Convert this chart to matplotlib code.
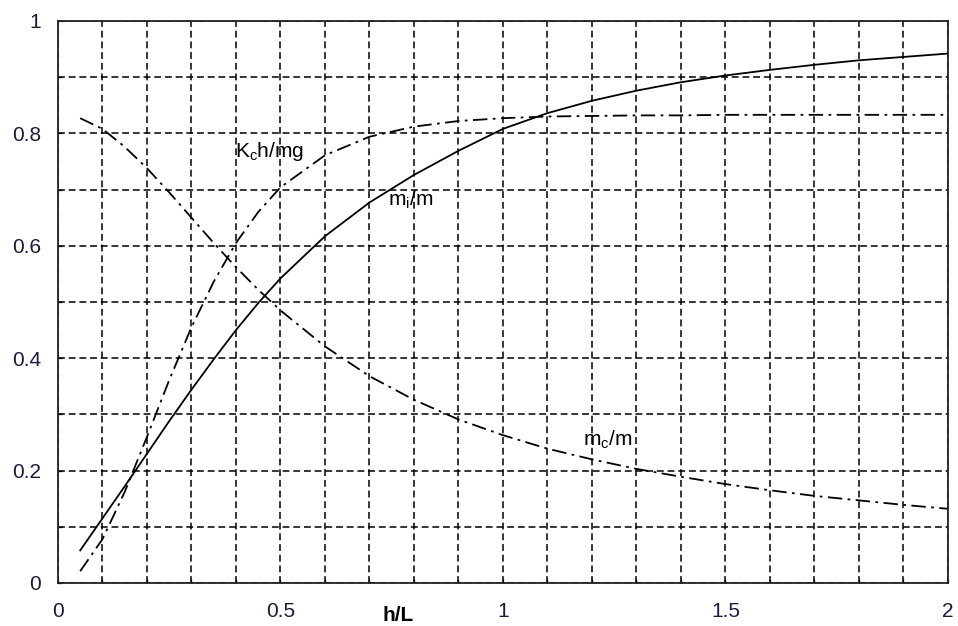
import matplotlib
matplotlib.use("Agg")
import matplotlib.pyplot as plt

plt.rcParams['font.family'] = ['Liberation Sans', 'DejaVu Sans']
plt.rcParams['mathtext.default'] = 'regular'

# h/L sample points and the three coefficient curves read along them
hL = [0.05, 0.1, 0.15, 0.2, 0.25, 0.3, 0.35, 0.4, 0.45, 0.5,
      0.6, 0.7, 0.8, 0.9, 1.0, 1.1, 1.2, 1.3, 1.4, 1.5,
      1.6, 1.7, 1.8, 1.9, 2.0]
mi_m = [0.058, 0.115, 0.172, 0.230, 0.288, 0.344, 0.398, 0.450, 0.498, 0.542,
        0.617, 0.677, 0.726, 0.769, 0.808, 0.836, 0.858, 0.876, 0.891, 0.903,
        0.913, 0.922, 0.930, 0.936, 0.942]
mc_m = [0.827, 0.808, 0.776, 0.738, 0.695, 0.650, 0.605, 0.562, 0.522, 0.485,
        0.421, 0.368, 0.326, 0.291, 0.263, 0.239, 0.220, 0.203, 0.189, 0.176,
        0.165, 0.155, 0.147, 0.139, 0.132]
kc_h = [0.021, 0.078, 0.162, 0.260, 0.361, 0.455, 0.536, 0.605, 0.660, 0.704,
        0.761, 0.794, 0.812, 0.822, 0.827, 0.830, 0.831, 0.832, 0.832, 0.833,
        0.833, 0.833, 0.833, 0.833, 0.833]

x_ticks = [0, 0.5, 1, 1.5, 2]
x_labels = ['0', '0.5', '1', '1.5', '2']
y_ticks = [0, 0.2, 0.4, 0.6, 0.8, 1]
y_labels = ['0', '0.2', '0.4', '0.6', '0.8', '1']
grid_x = [i / 10 for i in range(1, 20)]
grid_y = [i / 10 for i in range(1, 10)]

fig = plt.figure(figsize=(9.58, 6.26), dpi=100)
ax = fig.add_axes([0.0605, 0.0687, 0.929, 0.8978])

ax.plot(hL, mi_m, color='black', lw=1.3)
ax.plot(hL, mc_m, color='black', lw=1.3, dashes=(8, 3, 1.5, 3))
ax.plot(hL, kc_h, color='black', lw=1.3, dashes=(8, 3, 1.5, 3))

ax.set_xlim(0, 2)
ax.set_ylim(0, 1)
ax.set_xticks(x_ticks)
ax.set_xticklabels(x_labels)
ax.set_yticks(y_ticks)
ax.set_yticklabels(y_labels)
ax.set_xticks(grid_x, minor=True)
ax.set_yticks(grid_y, minor=True)

# dashed grid on every 0.1 step
ax.grid(True, which='both', color='black', lw=1.1, dashes=(4.5, 2.5))
ax.set_axisbelow(True)

ax.tick_params(which='both', direction='in', length=3, width=0.9,
               labelsize=15, labelcolor='#1c1c3a')
ax.tick_params(axis='x', pad=14)
ax.tick_params(axis='y', pad=12)
for s in ax.spines.values():
    s.set_linewidth(1.3)
    s.set_color('#222222')

# curve names
ax.text(0.398, 0.767, 'K$_c$h/mg', fontsize=15, va='center')
ax.text(0.742, 0.681, 'm$_i$/m', fontsize=15, va='center')
ax.text(1.18, 0.254, 'm$_c$/m', fontsize=15, va='center')

ax.text(0.765, -0.057, 'h/L', fontsize=15, fontweight='bold',
        ha='center', va='center', transform=ax.get_xaxis_transform())

fig.savefig('out.png', dpi=100)
